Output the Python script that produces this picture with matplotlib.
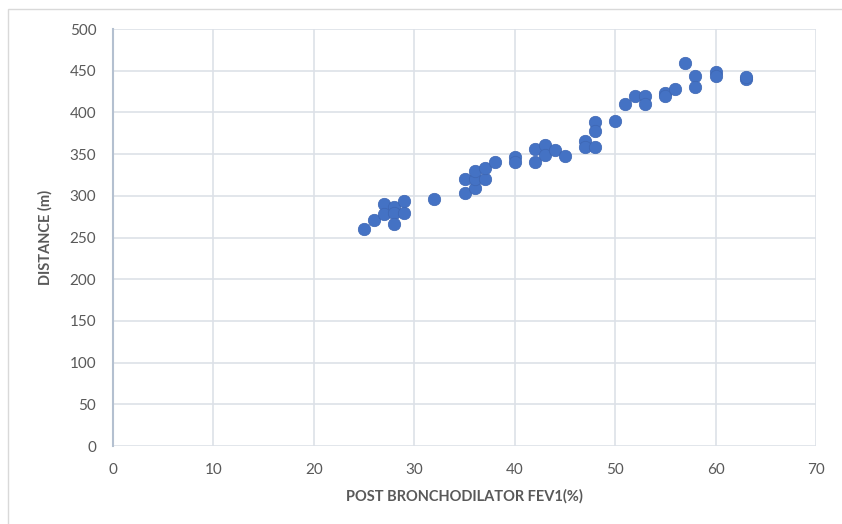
import matplotlib.pyplot as plt
from matplotlib.patches import Rectangle

# данные
fev1 = [25, 26, 27, 27, 28, 28, 28, 29, 29, 32, 35, 35, 36, 36, 36, 37, 37, 38,
        40, 40, 42, 42, 43, 43, 44, 45, 47, 47, 48, 48, 48, 50, 51, 52, 53, 53,
        55, 55, 56, 57, 58, 58, 60, 60, 63, 63]
distance = [260, 271, 290, 278, 287, 279, 266, 294, 279, 296, 303, 320, 309, 320,
            330, 320, 333, 340, 347, 340, 340, 356, 361, 349, 355, 348, 366, 359,
            388, 378, 358, 390, 410, 420, 420, 410, 423, 420, 428, 459, 444, 430,
            448, 444, 440, 442]
x_ticks = [0, 10, 20, 30, 40, 50, 60, 70]
y_ticks = [0, 50, 100, 150, 200, 250, 300, 350, 400, 450, 500]

plt.rcParams['font.family'] = ['Lato', 'DejaVu Sans']

fig = plt.figure(figsize=(8.42, 5.24), dpi=100)
ax = fig.add_axes([113 / 842, 78 / 524, 703 / 842, 417 / 524])

# рамка вокруг всей диаграммы
fig.patches.append(Rectangle((8 / 842, -0.1), 1.2, (524 - 9) / 524 + 0.1,
                             transform=fig.transFigure, fill=False,
                             edgecolor='#d9d9d9', linewidth=1))

ax.scatter(fev1, distance, s=80, color='#4472c4', edgecolors='#3d66b3',
           linewidths=0.5, zorder=3)

ax.set_xlim(0, 70)
ax.set_ylim(0, 500)
ax.set_xticks(x_ticks)
ax.set_yticks(y_ticks)
ax.grid(True, color='#dde1e8', linewidth=1.2, zorder=0)

for s in ['top', 'right', 'bottom']:
    ax.spines[s].set_visible(False)
ax.spines['left'].set_color('#b4c0d0')
ax.spines['left'].set_linewidth(1.5)
ax.tick_params(length=0, labelsize=11, labelcolor='#595959', pad=12)
ax.tick_params(axis='x', pad=12)

ax.set_xlabel('POST BRONCHODILATOR FEV1(%)', fontsize=10.5, fontweight='bold',
              color='#595959', labelpad=9)
ax.set_ylabel('DISTANCE (m)', fontsize=10.5, fontweight='bold',
              color='#595959', labelpad=12)

fig.savefig('out.png', dpi=100)
